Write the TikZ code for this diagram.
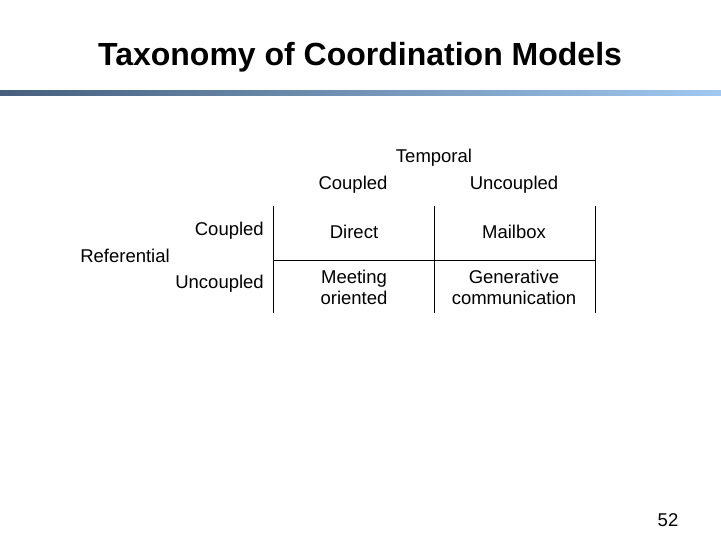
\documentclass[tikz,border=0pt]{standalone}
\usepackage{fontspec}
\setmainfont{Liberation Sans}
\begin{document}
\begin{tikzpicture}[x=1pt,y=-1pt,
  lab/.style={font=\fontsize{18.5}{21}\selectfont,inner sep=0pt},
  cell/.style={font=\fontsize{18.5}{21}\selectfont,inner sep=0pt,align=center},
  rule/.style={line width=0.8pt}]
\useasboundingbox (0,0) rectangle (721,541);
\node[font=\bfseries\fontsize{32}{34}\selectfont] (title) at (360,57) {Taxonomy of Coordination Models};
\shade[left color={rgb,255:red,70;green,95;blue,125}, right color={rgb,255:red,160;green,200;blue,240}] (0,90) rectangle (721,95);
\node[lab] (temp) at (434,158) {Temporal};
\node[lab] (tc) at (353,185) {Coupled};
\node[lab] (tu) at (514,185) {Uncoupled};
\node[lab,anchor=east] (rc) at (264,231) {Coupled};
\node[lab] (ref) at (125,256) {Referential};
\node[lab,anchor=east] (ru) at (264,284) {Uncoupled};
\node[cell] (d) at (354,232) {Direct};
\node[cell] (m) at (514,232) {Mailbox};
\node[cell] (mo) at (354,287) {Meeting\\oriented};
\node[cell] (g) at (514,287) {Generative\\communication};
\node[font=\fontsize{18.5}{21}\selectfont] (num) at (668,520) {52};
\coordinate (a1) at (273,206); \coordinate (a2) at (273,313);
\coordinate (b1) at (434,206); \coordinate (b2) at (434,313);
\coordinate (c1) at (595,206); \coordinate (c2) at (595,313);
\coordinate (h1) at (273,260); \coordinate (h2) at (595,260);
\draw[rule] (a1)--(a2); \draw[rule] (b1)--(b2); \draw[rule] (c1)--(c2);
\draw[rule] (h1)--(h2);
\end{tikzpicture}
\end{document}
